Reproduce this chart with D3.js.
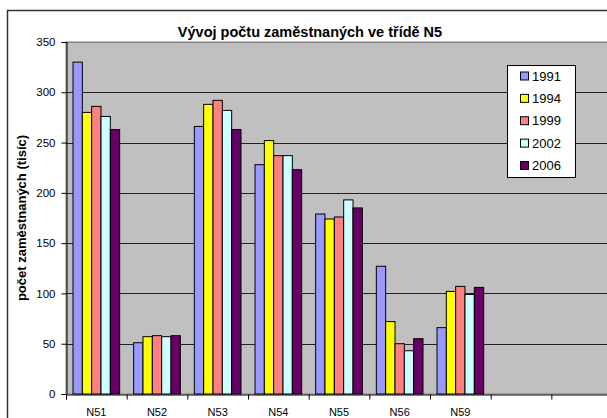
<!DOCTYPE html>
<html>
<head>
<meta charset="utf-8">
<script src="https://cdn.jsdelivr.net/npm/d3@7/dist/d3.min.js"></script>
<style>
html,body{margin:0;padding:0;background:#fff;}
svg{display:block;font-family:"Liberation Sans",Arial,sans-serif;}
</style>
</head>
<body>
<svg id="chart" width="607" height="418"></svg>
<script>
const title = "Vývoj počtu zaměstnaných ve třídě N5";
const yLabel = "počet zaměstnaných (tisíc)";
const categories = ["N51","N52","N53","N54","N55","N56","N59"];
const slotCount = 9;
const years = ["1991","1994","1999","2002","2006"];
const colors = ["#9999FF","#FFFF00","#FF8080","#CCFFFF","#660066"];
const v1991 = [330, 51, 266, 228, 179, 127, 66];
const v1994 = [280, 57, 288, 252, 174, 72, 102];
const v1999 = [286, 58, 292, 237, 176, 50, 107];
const v2002 = [276, 57, 282, 237, 193, 43, 99];
const v2006 = [263, 58, 263, 223, 185, 55, 106];
const yTicks = [0,50,100,150,200,250,300,350];

const series = [v1991, v1994, v1999, v2002, v2006];

const svg = d3.select("#chart");
const L = 66, R = 612, T = 42, B = 394;

// outer chart border
svg.append("rect").attr("x",7.5).attr("y",10.5).attr("width",640).attr("height",440)
  .attr("fill","#fff").attr("stroke","#333").attr("stroke-width",1.5);

const y = d3.scaleLinear().domain([0,350]).range([B,T]);
const x = d3.scaleBand().domain(d3.range(slotCount)).range([L,R]).padding(0);
const xLin = d3.scaleLinear().domain([0,slotCount]).range([L,R]);
const xs = d3.scaleBand().domain(years).range([0,x.bandwidth()]).paddingInner(0).paddingOuter(0.75);

// plot area
svg.append("rect").attr("x",L).attr("y",T).attr("width",R-L).attr("height",B-T)
  .attr("fill","#C0C0C0").attr("stroke","#808080").attr("stroke-width",1);

// gridlines
svg.append("g").selectAll("line").data(yTicks.filter(d=>d>0)).join("line")
  .attr("x1",L).attr("x2",R)
  .attr("y1",d=>Math.round(y(d))+0.5).attr("y2",d=>Math.round(y(d))+0.5)
  .attr("stroke",d=>d===350?"#808080":"#222").attr("stroke-width",1);

// bars
const g = svg.append("g");
series.forEach((vals, si) => {
  g.append("g").selectAll("rect").data(vals).join("rect")
    .attr("x",(d,i)=>x(i)+xs(years[si]))
    .attr("y",d=>y(d))
    .attr("width",xs.bandwidth())
    .attr("height",d=>B-y(d))
    .attr("fill",colors[si])
    .attr("stroke","#000").attr("stroke-width",1);
});

// y axis
const yAxis = svg.append("g").attr("transform",`translate(${L+0.5},0)`)
  .call(d3.axisLeft(y).tickValues(yTicks).tickSize(5).tickPadding(6).tickFormat(d3.format("d")));
yAxis.select(".domain").attr("stroke","#000");
yAxis.selectAll(".tick line").attr("stroke","#000");
yAxis.selectAll("text").attr("font-size","11.5px").attr("fill","#000");

// x axis: boundary ticks
const xAxis = svg.append("g").attr("transform",`translate(0,${B+0.5})`)
  .call(d3.axisBottom(xLin).tickValues(d3.range(slotCount+1)).tickSize(5).tickFormat(""));
xAxis.select(".domain").attr("stroke","#000");
xAxis.selectAll(".tick line").attr("stroke","#000");
// x labels
const xLab = svg.append("g").attr("transform",`translate(0,${B})`)
  .call(d3.axisBottom(x).tickSize(0).tickPadding(14).tickFormat(i=>categories[i]||""));
xLab.select(".domain").remove();
xLab.selectAll("text").attr("font-size","11px").attr("fill","#000");

// title
svg.append("text").attr("x",310).attr("y",37).attr("text-anchor","middle")
  .attr("font-size","14.5px").attr("font-weight","bold").text(title);

// y label
svg.append("text").attr("transform",`translate(26,${(T+B)/2}) rotate(-90)`)
  .attr("text-anchor","middle").attr("font-size","13px").attr("font-weight","bold").text(yLabel);

// legend
const lg = svg.append("g");
lg.append("rect").attr("x",507.5).attr("y",65.5).attr("width",68).attr("height",112)
  .attr("fill","#fff").attr("stroke","#000").attr("stroke-width",1);
const rowY = d3.scalePoint().domain(years).range([76,165.5]);
years.forEach((yr,i)=>{
  lg.append("rect").attr("x",520.5).attr("y",rowY(yr)-4).attr("width",8).attr("height",8)
    .attr("fill",colors[i]).attr("stroke","#000");
  lg.append("text").attr("x",532).attr("y",rowY(yr)+4.7).attr("font-size","13px").text(yr);
});
</script>
</body>
</html>
